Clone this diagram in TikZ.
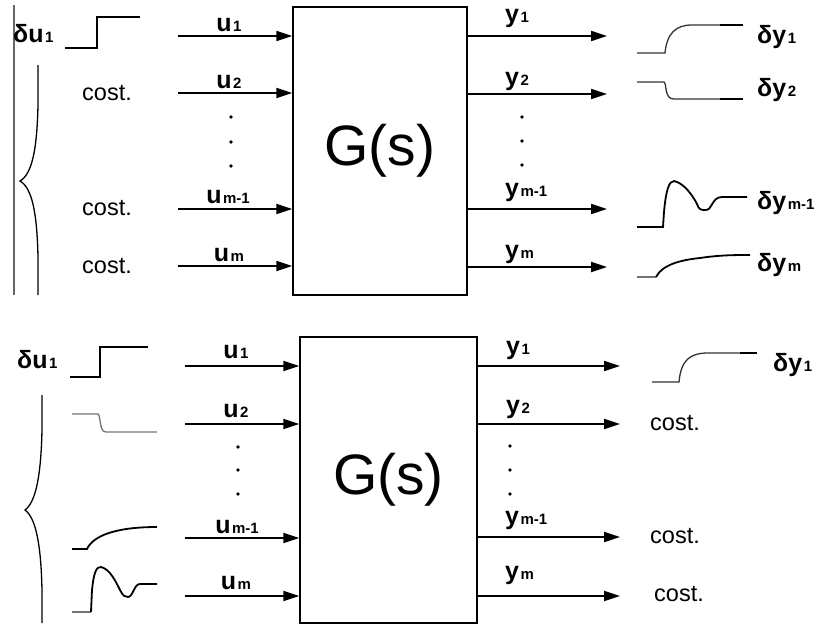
\documentclass[tikz,border=0pt]{standalone}
\usepackage{fontspec}
\setmainfont{Liberation Sans}
\usetikzlibrary{arrows.meta}
\newcommand\lb[2]{{\bfseries\fontsize{25}{25}\selectfont #1}\kern1.5pt{\bfseries\fontsize{15}{15}\selectfont #2}}
\begin{document}
\begin{tikzpicture}[x=1pt,y=-1pt,
  arr/.style={line width=1.8pt,-{Triangle[length=16pt,width=10pt]}},
  sysbox/.style={draw,line width=1.5pt,inner sep=0pt,font=\fontsize{57}{57}\selectfont},
  lab/.style={anchor=base,inner sep=0pt},
  labw/.style={anchor=base west,inner sep=0pt},
  costtxt/.style={anchor=base west,inner sep=0pt,font=\fontsize{23.5}{23.5}\selectfont},
  sig/.style={line width=1.8pt,black},
  sigthin/.style={line width=1.3pt,black!80},
  sigthick/.style={line width=2.4pt,black},
  graysig/.style={line width=1.3pt,black!55},
  brace/.style={line width=1.3pt,black},
  dotmark/.style={fill=black}]
\useasboundingbox (0,0) rectangle (819,627);

% ================= TOP PANEL =================
\draw[line width=1.2pt,black!60] (14,5) -- (14,295);
\node[sysbox,minimum width=174pt,minimum height=288pt] (G1) at (380,151) {G(s)};

% inputs
\coordinate (ia1) at (178,36);
\coordinate (ia2) at (178,93);
\coordinate (ia3) at (178,209);
\coordinate (ia4) at (178,266);
\draw[arr] (ia1) -- (ia1 -| G1.west);
\draw[arr] (ia2) -- (ia2 -| G1.west);
\draw[arr] (ia3) -- (ia3 -| G1.west);
\draw[arr] (ia4) -- (ia4 -| G1.west);
\node[lab] (tu1) at (229,31) {\lb{u}{1}};
\node[lab] (tu2) at (229,88) {\lb{u}{2}};
\node[lab] (tu3) at (228,203) {\lb{u}{m-1}};
\node[lab] (tu4) at (229,261) {\lb{u}{m}};
\fill[dotmark] (231,117) circle (1.8) (231,142) circle (1.8) (231,166) circle (1.8);

% outputs
\coordinate (oa1) at (607,36);
\coordinate (oa2) at (607,94);
\coordinate (oa3) at (607,209);
\coordinate (oa4) at (607,267);
\draw[arr] (oa1 -| G1.east) -- (oa1);
\draw[arr] (oa2 -| G1.east) -- (oa2);
\draw[arr] (oa3 -| G1.east) -- (oa3);
\draw[arr] (oa4 -| G1.east) -- (oa4);
\node[labw] (ty1) at (505,22) {\lb{y}{1}};
\node[labw] (ty2) at (505,85) {\lb{y}{2}};
\node[labw] (ty3) at (505,196) {\lb{y}{m-1}};
\node[labw] (ty4) at (505,258) {\lb{y}{m}};
\fill[dotmark] (522,117) circle (1.8) (522,141) circle (1.8) (522,165) circle (1.8);

% left signals
\node[labw] (tdu) at (13,42) {\lb{δu}{1}};
\draw[sig,line width=2.2pt] (65,48) -- (97,48) -- (97,17) -- (140,17);
\draw[brace] (38,65) -- (38,105) .. controls (37,150) and (32,174) .. (20,181)
  .. controls (32,188) and (37,212) .. (38,257) -- (38,295);
\node[costtxt] (tc2) at (82,100) {cost.};
\node[costtxt] (tc3) at (82,215) {cost.};
\node[costtxt] (tc4) at (82,273) {cost.};

% right signals
\draw[sigthin] (637,53) -- (665,53) .. controls (667,33) and (676,25) .. (692,25) -- (720,25);
\draw[sigthick] (720,25) -- (743,25);
\draw[sigthin] (637,82) -- (664,82) .. controls (667,84) and (664,99) .. (674,99) -- (720,99);
\draw[sigthick] (720,99) -- (743,99);
\draw[sig] (637,227) -- (663,227) -- (664,212) .. controls (666,190) and (669,181) .. (674,181)
  .. controls (684,183) and (693,196) .. (697,204) .. controls (699,210) and (701,210) .. (706,210)
  .. controls (712,210) and (712,197) .. (722,197) -- (747,197);
\draw[graysig] (637,277) -- (656,277);
\draw[sig] (656,277) .. controls (662,265) and (680,260) .. (700,258) .. controls (720,255) and (735,255) .. (750,255);
\node[labw] (tdy1) at (757,43) {\lb{δy}{1}};
\node[labw] (tdy2) at (757,96) {\lb{δy}{2}};
\node[labw] (tdy3) at (757,209) {\lb{δy}{m-1}};
\node[labw] (tdy4) at (757,271) {\lb{δy}{m}};

% ================= BOTTOM PANEL =================
\node[sysbox,minimum width=177pt,minimum height=286pt] (G2) at (388.5,480) {G(s)};

\coordinate (ib1) at (185,366);
\coordinate (ib2) at (185,424);
\coordinate (ib3) at (185,538);
\coordinate (ib4) at (185,596);
\draw[arr] (ib1) -- (ib1 -| G2.west);
\draw[arr] (ib2) -- (ib2 -| G2.west);
\draw[arr] (ib3) -- (ib3 -| G2.west);
\draw[arr] (ib4) -- (ib4 -| G2.west);
\node[lab] (bu1) at (236,358) {\lb{u}{1}};
\node[lab] (bu2) at (236,417) {\lb{u}{2}};
\node[lab] (bu3) at (237,533) {\lb{u}{m-1}};
\node[lab] (bu4) at (236,589) {\lb{u}{m}};
\fill[dotmark] (238,447) circle (1.8) (238,470) circle (1.8) (238,494) circle (1.8);

\coordinate (ob1) at (620,366);
\coordinate (ob2) at (620,424);
\coordinate (ob3) at (620,537);
\coordinate (ob4) at (620,596);
\draw[arr] (ob1 -| G2.east) -- (ob1);
\draw[arr] (ob2 -| G2.east) -- (ob2);
\draw[arr] (ob3 -| G2.east) -- (ob3);
\draw[arr] (ob4 -| G2.east) -- (ob4);
\node[labw] (by1) at (506,354) {\lb{y}{1}};
\node[labw] (by2) at (506,413) {\lb{y}{2}};
\node[labw] (by3) at (505,524) {\lb{y}{m-1}};
\node[labw] (by4) at (505,579) {\lb{y}{m}};
\fill[dotmark] (510,446) circle (1.8) (510,470) circle (1.8) (510,494) circle (1.8);

% left signals
\node[labw] (bdu) at (17,368) {\lb{δu}{1}};
\draw[sig,line width=2.2pt] (70,377) -- (100,377) -- (100,347) -- (148,347);
\draw[brace] (42,395) -- (42,430) .. controls (41,475) and (36,502) .. (25,510)
  .. controls (36,518) and (41,545) .. (42,590) -- (42,623);
\draw[graysig] (72,414) -- (98,414) .. controls (101,416) and (99,432) .. (106,432) -- (157,432);
\draw[sig] (72,549) -- (87,549) .. controls (93,536) and (115,527) .. (157,527);
\draw[graysig] (72,612) -- (91,612);
\draw[sig] (91,612) -- (92,590) .. controls (94,570) and (97,567) .. (101,567)
  .. controls (110,569) and (116,582) .. (120,590) .. controls (123,596) and (125,597) .. (128,597)
  .. controls (133,597) and (134,584) .. (140,584) -- (157,584);

% right signals
\draw[sigthin] (652,382) -- (679,382) .. controls (681,360) and (690,353) .. (708,353) -- (740,353);
\draw[sigthick] (740,353) -- (757,353);
\node[labw] (bdy1) at (773,371) {\lb{δy}{1}};
\node[costtxt] (bc2) at (650,430) {cost.};
\node[costtxt] (bc3) at (650,543) {cost.};
\node[costtxt] (bc4) at (654,601) {cost.};
\end{tikzpicture}
\end{document}
